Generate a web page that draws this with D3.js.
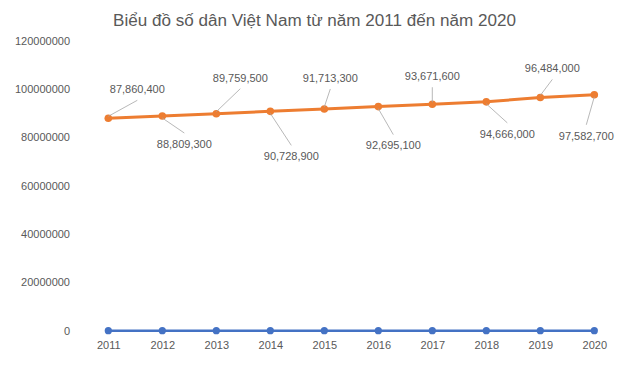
<!DOCTYPE html>
<html>
<head>
<meta charset="utf-8">
<script src="https://cdn.jsdelivr.net/npm/d3@7"></script>
<style>
  html, body { margin: 0; padding: 0; background: #fff; }
  svg { display: block; }
  text { font-family: "Liberation Sans", Arial, sans-serif; fill: #595959; }
</style>
</head>
<body>
<svg id="chart" width="629" height="366"></svg>
<script>
// ---- data ----
const title = "Biểu đồ số dân Việt Nam từ năm 2011 đến năm 2020";
const years = [2011, 2012, 2013, 2014, 2015, 2016, 2017, 2018, 2019, 2020];
const yearSeries = [2011, 2012, 2013, 2014, 2015, 2016, 2017, 2018, 2019, 2020];
const population = [87860400, 88809300, 89759500, 90728900, 91713300, 92695100, 93671600, 94666000, 96484000, 97582700];
const yTicks = [0, 20000000, 40000000, 60000000, 80000000, 100000000, 120000000];

// ---- label placement (layout only) ----
const labelOffsets = [[29, -29], [22, 28], [24, -36], [21, 45], [6, -31], [15, 39], [0, -28], [21, 32], [12, -29], [-8, 41]];

const svg = d3.select("#chart");
const x = d3.scalePoint().domain(years).range([108.3, 594.3]);
const y = d3.scaleLinear().domain([0, 120000000]).range([330.7, 40.6]);

// title
const t = svg.append("text")
  .attr("x", 314.5).attr("y", 25.7)
  .attr("text-anchor", "middle")
  .style("font-size", "17px")
  .text(title);
const w = t.node().getComputedTextLength();
t.style("font-size", (17 * 403 / w).toFixed(2) + "px");

// y axis
const yAxis = svg.append("g").attr("transform", "translate(70,0)")
  .call(d3.axisLeft(y).tickValues(yTicks).tickSize(0).tickPadding(0).tickFormat(d3.format("d")));
yAxis.select(".domain").remove();
yAxis.selectAll("text").style("font-size", "11px").attr("fill", "#595959").style("font-family", "'Liberation Sans', Arial, sans-serif");

// x axis
const xAxis = svg.append("g").attr("transform", "translate(0,341.5)")
  .call(d3.axisBottom(x).tickSize(0).tickPadding(0).tickFormat(d3.format("d")));
xAxis.select(".domain").remove();
xAxis.selectAll("text").style("font-size", "11px").attr("fill", "#595959").style("font-family", "'Liberation Sans', Arial, sans-serif");

const line = d3.line().x((d, i) => x(years[i])).y(d => y(d));

// blue series (year column)
svg.append("path").datum(yearSeries)
  .attr("d", line).attr("fill", "none")
  .attr("stroke", "#4472C4").attr("stroke-width", 2.5).attr("stroke-linejoin", "round");
svg.selectAll("circle.blue").data(yearSeries).enter().append("circle")
  .attr("class", "blue")
  .attr("cx", (d, i) => x(years[i])).attr("cy", d => y(d)).attr("r", 3.6)
  .attr("fill", "#4472C4");

// orange series (population)
svg.append("path").datum(population)
  .attr("d", line).attr("fill", "none")
  .attr("stroke", "#ED7D31").attr("stroke-width", 3).attr("stroke-linejoin", "round");
svg.selectAll("circle.orange").data(population).enter().append("circle")
  .attr("class", "orange")
  .attr("cx", (d, i) => x(years[i])).attr("cy", d => y(d)).attr("r", 3.8)
  .attr("fill", "#ED7D31");

// leader lines + labels
const fmt = d3.format(",");
population.forEach((v, i) => {
  const px = x(years[i]), py = y(v);
  const [dx, dy] = labelOffsets[i];
  const lx = px + dx, ly = py + dy;
  const endY = dy < 0 ? ly + 11 : ly - 11;
  const startY = dy < 0 ? py - 2 : py + 2;
  svg.append("line")
    .attr("x1", px).attr("y1", startY)
    .attr("x2", lx).attr("y2", endY)
    .attr("stroke", "#A6A6A6").attr("stroke-width", 0.8);
  svg.append("text")
    .attr("x", lx).attr("y", ly)
    .attr("dy", "0.35em")
    .attr("text-anchor", "middle")
    .style("font-size", "11px")
    .text(fmt(v));
});
</script>
</body>
</html>
